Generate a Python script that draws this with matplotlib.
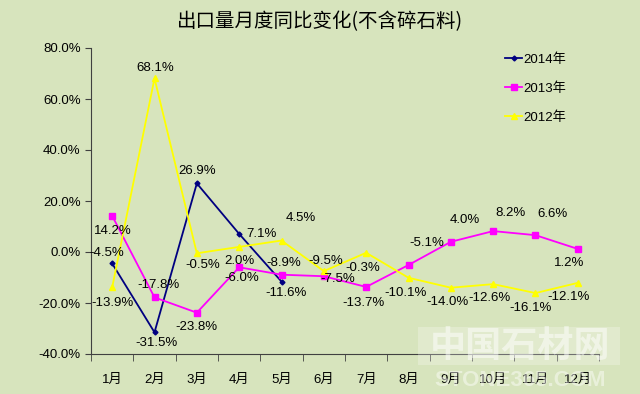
import matplotlib.pyplot as plt
from matplotlib.patches import Rectangle
from matplotlib.ticker import FuncFormatter, FixedLocator

plt.rcParams['font.family'] = ['Liberation Sans', 'Noto Sans CJK SC', 'DejaVu Sans']

months = ['1月', '2月', '3月', '4月', '5月', '6月', '7月', '8月', '9月', '10月', '11月', '12月']
y2014 = [-4.5, -31.5, 26.9, 7.1, -11.6]
y2013 = [14.2, -17.8, -23.8, -6.0, -8.9, -9.5, -13.7, -5.1, 4.0, 8.2, 6.6, 1.2]
y2012 = [-13.9, 68.1, -0.5, 2.0, 4.5, -7.5, -0.3, -10.1, -14.0, -12.6, -16.1, -12.1]

# label offsets in pixels (dx, dy)
off2014 = [(-5, 10), (2, -11), (0, 12), (22, 0), (5, -11)]
off2013 = [(1, -15), (4, 12), (0, -14), (3, -11), (2, 12), (2, 15), (-3, -16), (18, 22), (14, 22), (17, 18), (17, 21), (-9, -14)]
off2012 = [(0, -16), (1, 10), (6, -12), (0, -14), (19, 23), (14, -8), (-3, -15), (-3, -15), (-3, -14), (-4, -14), (-5, -15), (-9, -14)]

bg = '#D7E4BD'
fig = plt.figure(figsize=(6.4, 3.94), dpi=100, facecolor=bg)
ax = fig.add_axes([91/640, 1-354/394, (599-91)/640, (354-48)/394])
ax.set_facecolor(bg)

x = list(range(len(months)))
series = [
    (y2014, off2014, '#000080', 'D', 2.5, '2014年'),
    (y2013, off2013, '#FF00FF', 's', 5, '2013年'),
    (y2012, off2012, '#FFFF00', '^', 4, '2012年'),
]
for vals, offs, c, m, ms, lab in series:
    xs = x[:len(vals)]
    ax.plot(xs, vals, color=c, marker=m, markersize=ms, lw=1.3, label=lab)
    for xi, v, (dx, dy) in zip(xs, vals, offs):
        ax.annotate(f'{v:.1f}%', (xi, v), xytext=(dx, dy), textcoords='offset pixels',
                    ha='center', va='center', fontsize=9.5, color='black')

ax.set_xlim(-0.5, 11.5)
ax.set_ylim(-40, 80)
ax.set_yticks(range(-40, 81, 20))
ax.yaxis.set_major_formatter(FuncFormatter(lambda v, p: f'{v:.1f}%'))
ax.set_xticks(x)
ax.set_xticklabels(months)
ax.xaxis.set_minor_locator(FixedLocator([i + 0.5 for i in range(-1, 12)]))
ax.tick_params(axis='x', which='major', length=0, pad=14, labelsize=9.5)
ax.tick_params(axis='x', which='minor', length=5, direction='out', color='#404040')
ax.tick_params(axis='y', length=4, direction='out', labelsize=9.5, color='#404040')
for s in ['top', 'right']:
    ax.spines[s].set_visible(False)
for s in ['left', 'bottom']:
    ax.spines[s].set_color('#404040')

leg = fig.legend(loc='upper left', bbox_to_anchor=(500/640, 1-48/394), frameon=False,
                 fontsize=9.5, handlelength=1.3, handletextpad=0.1, labelspacing=1.25,
                 borderaxespad=0)

fig.text(320/640, 1-22/394, '出口量月度同比变化(不含碎石料)', ha='center', va='center',
         fontsize=14, family=['Noto Sans CJK SC', 'DejaVu Sans'])

# watermark
fig.patches.append(Rectangle((418/640, 1-365/394), 202/640, 38/394, transform=fig.transFigure,
                             facecolor='white', alpha=0.25, edgecolor='none'))
fig.text(520/640, 1-346/394, '中国石材网', ha='center', va='center', fontsize=26,
         color='white', alpha=0.5, family=['Noto Sans CJK SC', 'DejaVu Sans'], weight='bold')
fig.text(520/640, 1-381/394, 'STONE365.COM', ha='center', va='center', fontsize=16,
         color='white', alpha=0.45, weight='bold')

fig.savefig('out.png', dpi=100, facecolor=bg)
